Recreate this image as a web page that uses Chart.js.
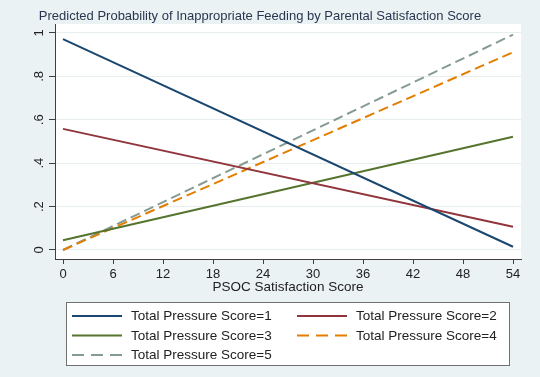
<!DOCTYPE html>
<html lang="en">

<head>
	<meta charset="UTF-8">
	<title>Predicted Probability of Inappropriate Feeding</title>
	<script src="https://cdn.jsdelivr.net/npm/chart.js"></script>
	<style>
		body {
			margin: 0;
			background: #eaf2f3;
			font-family: "Liberation Sans", Arial, sans-serif;
		}

		canvas {
			display: block;
		}
	</style>
</head>

<body>
	<canvas id="probChart" width="540" height="377"></canvas>

	<script>
		// values
		const xValues = [0, 54];
		const score1 = [0.971, 0.015];
		const score2 = [0.558, 0.107];
		const score3 = [0.045, 0.522];
		const score4 = [0.0, 0.911];
		const score5 = [0.0, 0.992];

		const seriesLabels = ['Total Pressure Score=1', 'Total Pressure Score=2', 'Total Pressure Score=3',
			'Total Pressure Score=4', 'Total Pressure Score=5'];
		const seriesColors = ['#1a476f', '#90353b', '#55752f', '#e37e00', '#869a94'];

		const xTicks = [0, 6, 12, 18, 24, 30, 36, 42, 48, 54];
		const xTickLabels = ['0', '6', '12', '18', '24', '30', '36', '42', '48', '54'];
		const yTicks = [0, 0.2, 0.4, 0.6, 0.8, 1];
		const yTickLabels = ['0', '.2', '.4', '.6', '.8', '1'];

		const titleText = 'Predicted Probability of Inappropriate Feeding by Parental Satisfaction Score';
		const xTitle = 'PSOC Satisfaction Score';

		const FONT = '"Liberation Sans", Arial, sans-serif';

		function toPoints(ys) {
			return xValues.map((x, i) => ({ x: x, y: ys[i] }));
		}

		const allSeries = [score1, score2, score3, score4, score5];
		const datasets = allSeries.map((ys, i) => ({
			label: seriesLabels[i],
			data: toPoints(ys),
			borderColor: seriesColors[i],
			borderWidth: 2,
			borderDash: i >= 3 ? [10, 5] : [],
			pointRadius: 0,
			fill: false
		}));

		const stataLook = {
			id: 'stataLook',
			beforeDraw(chart) {
				const ctx = chart.ctx;
				const a = chart.chartArea;
				ctx.save();
				ctx.fillStyle = '#eaf2f3';
				ctx.fillRect(0, 0, chart.width, chart.height);
				ctx.fillStyle = '#ffffff';
				ctx.fillRect(a.left, a.top, a.right - a.left, a.bottom - a.top);
				ctx.restore();
			},
			afterDraw(chart) {
				const ctx = chart.ctx;
				const yScale = chart.scales.y;
				ctx.save();

				// title
				ctx.fillStyle = '#2a3650';
				ctx.font = '13px ' + FONT;
				ctx.textAlign = 'center';
				ctx.textBaseline = 'middle';
				ctx.fillText(titleText, 260, 16);

				// rotated y tick labels
				ctx.fillStyle = '#222';
				ctx.font = '13px ' + FONT;
				yTicks.forEach((v, i) => {
					const py = yScale.getPixelForValue(v);
					ctx.save();
					ctx.translate(39.5, py);
					ctx.rotate(-Math.PI / 2);
					ctx.fillText(yTickLabels[i], 0, 0);
					ctx.restore();
				});

				// legend box
				const bx = 66, by = 302, bw = 443, bh = 63;
				ctx.fillStyle = '#ffffff';
				ctx.fillRect(bx, by, bw, bh);
				ctx.strokeStyle = '#707070';
				ctx.lineWidth = 1;
				ctx.strokeRect(bx + 0.5, by + 0.5, bw, bh);

				const colX = [72, 297];
				const rowY = [316, 335.5, 355];
				ctx.textAlign = 'left';
				ctx.font = '13.5px ' + FONT;
				chart.data.datasets.forEach((ds, i) => {
					const x = colX[i % 2];
					const y = rowY[Math.floor(i / 2)];
					ctx.strokeStyle = ds.borderColor;
					ctx.lineWidth = 2;
					ctx.setLineDash(ds.borderDash.length ? [12, 7] : []);
					ctx.beginPath();
					ctx.moveTo(x, y);
					ctx.lineTo(x + 50, y);
					ctx.stroke();
					ctx.setLineDash([]);
					ctx.fillStyle = '#222';
					ctx.fillText(ds.label, x + 59, y + 0.5);
				});
				ctx.restore();
			}
		};

		const ctx = document.getElementById('probChart').getContext('2d');
		const probChart = new Chart(ctx, {
			type: 'line',
			data: { datasets: datasets },
			plugins: [stataLook],
			options: {
				responsive: false,
				animation: false,
				layout: { padding: { top: 24, right: 19, bottom: 82, left: 0 } },
				plugins: {
					legend: { display: false },
					title: { display: false },
					tooltip: { enabled: false }
				},
				scales: {
					x: {
						type: 'linear',
						min: -0.96,
						max: 54.96,
						afterBuildTicks: function (scale) {
							scale.ticks = xTicks.map(v => ({ value: v }));
						},
						afterFit: function (scale) {
							scale.height = 36;
						},
						border: { display: true, color: '#404040', width: 1 },
						grid: { drawOnChartArea: false, drawTicks: true, tickLength: 5, tickColor: '#404040' },
						ticks: {
							padding: 3,
							maxRotation: 0,
							color: '#222',
							font: { family: FONT, size: 13 },
							callback: function (value) {
								return xTickLabels[xTicks.indexOf(value)];
							}
						},
						title: {
							display: true,
							text: xTitle,
							color: '#222',
							padding: 0,
							font: { family: FONT, size: 13.5 }
						}
					},
					y: {
						min: -0.0415,
						max: 1.041,
						afterBuildTicks: function (scale) {
							scale.ticks = yTicks.map(v => ({ value: v }));
						},
						afterFit: function (scale) {
							scale.width = 55;
						},
						border: { display: true, color: '#404040', width: 1 },
						grid: { color: '#e6eef0', lineWidth: 1, drawTicks: true, tickLength: 6, tickColor: '#404040' },
						ticks: { display: false }
					}
				}
			}
		});
	</script>
</body>

</html>
